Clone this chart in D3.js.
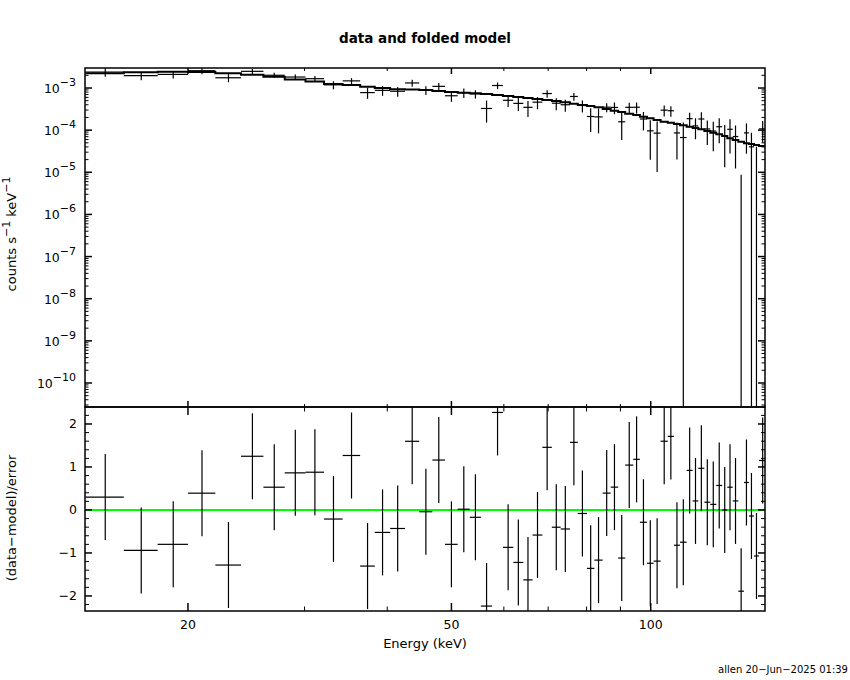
<!DOCTYPE html>
<html><head><meta charset="utf-8">
<script src="https://cdn.jsdelivr.net/npm/d3@7"></script>
<style>
body{margin:0;background:#fff}
text{font-family:"DejaVu Sans",sans-serif;fill:#000}
</style>
</head><body>
<svg id="c" width="850" height="680"></svg>
<script>
// ---- data ----
const edges = [14.0, 16.0, 18.0, 20.0, 22.0, 24.05, 26.0, 28.0, 30.1, 32.1, 34.25, 36.4, 38.3, 40.4, 42.55, 44.7, 46.8, 48.9, 51.1, 53.3, 55.4, 57.6, 59.8, 62.0, 64.2, 66.3, 68.6, 70.9, 73.1, 75.5, 77.6, 80.1, 82.2, 84.6, 87.0, 89.3, 91.5, 94.1, 96.3, 98.7, 101.0, 103.5, 106.1, 108.4, 110.7, 113.3, 115.7, 118.0, 120.5, 123.0, 125.6, 128.2, 130.5, 133.0, 135.6, 138.3, 140.7, 143.2, 145.7, 149.5];
const model = [2.233e-3, 2.358e-3, 2.436e-3, 2.397e-3, 2.233e-3, 2.068e-3, 1.854e-3, 1.591e-3, 1.426e-3, 1.244e-3, 1.178e-3, 1.074e-3, 1.000e-3, 9.315e-4, 9.213e-4, 8.965e-4, 8.488e-4, 8.037e-4, 7.735e-4, 7.526e-4, 7.204e-4, 6.821e-4, 6.458e-4, 6.114e-4, 5.789e-4, 5.483e-4, 5.190e-4, 4.914e-4, 4.576e-4, 4.240e-4, 3.950e-4, 3.740e-4, 3.483e-4, 3.174e-4, 2.892e-4, 2.695e-4, 2.455e-4, 2.287e-4, 2.084e-4, 1.910e-4, 1.740e-4, 1.586e-4, 1.502e-4, 1.398e-4, 1.303e-4, 1.207e-4, 1.124e-4, 1.047e-4, 9.541e-5, 8.694e-5, 7.965e-5, 7.261e-5, 6.405e-5, 5.834e-5, 5.316e-5, 4.871e-5, 4.688e-5, 4.439e-5, 4.203e-5];
const rate = [2.400e-3, 1.961e-3, 2.105e-3, 2.574e-3, 1.750e-3, 2.489e-3, 2.007e-3, 1.824e-3, 1.664e-3, 1.190e-3, 1.477e-3, 7.79e-4, 8.81e-4, 8.38e-4, 1.319e-3, 8.88e-4, 1.095e-3, 6.55e-4, 7.77e-4, 7.25e-4, 3.27e-4, 1.147e-3, 5.11e-4, 4.32e-4, 3.48e-4, 4.62e-4, 7.39e-4, 4.36e-4, 4.01e-4, 6.30e-4, 3.85e-4, 2.11e-4, 2.06e-4, 3.51e-4, 3.46e-4, 1.58e-4, 3.48e-4, 3.50e-4, 1.84e-4, 9.63e-5, 8.50e-5, 2.98e-4, 2.89e-4, 8.59e-5, 6.68e-5, 1.873e-4, 1.261e-4, 1.839e-4, 1.066e-4, 9.52e-5, 1.205e-4, 7.26e-5, 1.048e-4, 7.06e-5, -4.13e-5, 8.61e-5, 4.03e-5, -1.74e-5, 1.073e-4];
const rateErr = [5.58e-4, 4.22e-4, 4.14e-4, 4.53e-4, 3.77e-4, 3.37e-4, 2.89e-4, 2.70e-4, 2.71e-4, 2.56e-4, 2.36e-4, 2.26e-4, 2.28e-4, 2.17e-4, 2.49e-4, 2.07e-4, 2.12e-4, 1.86e-4, 1.95e-4, 1.62e-4, 1.76e-4, 2.05e-4, 1.55e-4, 1.47e-4, 1.42e-4, 1.48e-4, 1.51e-4, 1.38e-4, 1.28e-4, 1.31e-4, 1.22e-4, 1.20e-4, 1.22e-4, 8.57e-5, 1.07e-4, 9.97e-5, 9.82e-5, 1.03e-4, 8.54e-5, 7.64e-5, 7.48e-5, 8.72e-5, 8.11e-5, 6.57e-5, 8.47e-5, 7.24e-5, 6.52e-5, 8.17e-5, 6.20e-5, 6.35e-5, 7.17e-5, 5.95e-5, 7.69e-5, 5.83e-5, 5.00e-5, 5.85e-5, 4.69e-5, 5.77e-5, 5.67e-5];

const xMajorTicks = [20, 50, 100];
const xMajorLabels = ["20", "50", "100"];
const xMinorTicks = [30, 40, 60, 70, 80, 90];
const yDecades = [-10, -9, -8, -7, -6, -5, -4, -3];
const resMajorTicks = [-2, -1, 0, 1, 2];
const resMajorLabels = ["\u22122", "\u22121", "0", "1", "2"];

const titleText = "data and folded model";
const xTitle = "Energy (keV)";
const resTitle = "(data\u2212model)/error";
const footer = "allen 20\u2212Jun\u22122025 01:39";

// ---- layout ----
const L = 85, R = 765, T1 = 68, B1 = 407, T2 = 407, B2 = 611;
const svg = d3.select("#c");
svg.append("rect").attr("width", 850).attr("height", 680).attr("fill", "#fff");

const x = d3.scaleLog().domain([13.98, 148.8]).range([L, R]);
const yTop = d3.scaleLog().domain([Math.pow(10, -10.57), Math.pow(10, -2.525)]).range([B1, T1]);
const yRes = d3.scaleLinear().domain([-2.35, 2.395]).range([B2, T2]);

const bins = model.map((m, i) => {
  const lo = edges[i], hi = edges[i + 1];
  return {lo, hi, mid: (lo + hi) / 2, m, d: rate[i], e: rateErr[i], r: (rate[i] - m) / rateErr[i]};
});

const defs = svg.append("defs");
defs.append("clipPath").attr("id", "cp1").append("rect").attr("x", L).attr("y", T1).attr("width", R - L).attr("height", B1 - T1);
defs.append("clipPath").attr("id", "cp2").append("rect").attr("x", L).attr("y", T2).attr("width", R - L).attr("height", B2 - T2);

// ---- top panel ----
const g1 = svg.append("g").attr("clip-path", "url(#cp1)");
const pts = [];
bins.forEach(b => { pts.push([b.lo, b.m]); pts.push([b.hi, b.m]); });
g1.append("path").attr("d", d3.line().x(p => x(p[0])).y(p => yTop(p[1]))(pts))
  .attr("fill", "none").attr("stroke", "#000").attr("stroke-width", 2);

bins.forEach(b => {
  const hi = b.d + b.e, lo = b.d - b.e;
  if (hi > 0) {
    const y2 = yTop(hi);
    const y1 = lo > 0 ? yTop(lo) : B1 + 2;
    g1.append("line").attr("x1", x(b.mid)).attr("x2", x(b.mid)).attr("y1", y1).attr("y2", y2)
      .attr("stroke", "#000").attr("stroke-width", 1.2);
  }
  if (b.d > 0) {
    g1.append("line").attr("x1", x(b.lo)).attr("x2", x(b.hi)).attr("y1", yTop(b.d)).attr("y2", yTop(b.d))
      .attr("stroke", "#000").attr("stroke-width", 1.2);
  }
});

// ---- bottom panel ----
const g2 = svg.append("g").attr("clip-path", "url(#cp2)");
g2.append("line").attr("x1", L).attr("x2", R).attr("y1", yRes(0)).attr("y2", yRes(0))
  .attr("stroke", "#00ff00").attr("stroke-width", 2);
bins.forEach(b => {
  g2.append("line").attr("x1", x(b.mid)).attr("x2", x(b.mid)).attr("y1", yRes(b.r - 1)).attr("y2", yRes(b.r + 1))
    .attr("stroke", "#000").attr("stroke-width", 1.2);
  g2.append("line").attr("x1", x(b.lo)).attr("x2", x(b.hi)).attr("y1", yRes(b.r)).attr("y2", yRes(b.r))
    .attr("stroke", "#000").attr("stroke-width", 1.2);
});

// ---- frames & ticks ----
const axg = svg.append("g").attr("stroke", "#000").attr("fill", "none");
function tick(x1, y1, x2, y2, w) {
  axg.append("line").attr("x1", x1).attr("y1", y1).attr("x2", x2).attr("y2", y2).attr("stroke-width", w || 1);
}
// x ticks
function xTicks(top, bot, maj, min) {
  xMajorTicks.forEach(v => { const px = x(v); tick(px, top, px, top + maj, 1.5); tick(px, bot, px, bot - maj, 1.5); });
  xMinorTicks.forEach(v => { const px = x(v); tick(px, top, px, top + min); tick(px, bot, px, bot - min); });
}
xTicks(T1, B1, 6, 3);
xTicks(T2, B2, 8, 4.5);
// top y ticks (log)
yDecades.forEach(k => {
  const py = yTop(Math.pow(10, k));
  tick(L, py, L + 7, py, 1.5); tick(R, py, R - 7, py, 1.5);
});
const [dmin, dmax] = yTop.domain();
for (let k = -11; k <= -3; k++) {
  for (let j = 2; j <= 9; j++) {
    const v = j * Math.pow(10, k);
    if (v < dmin || v > dmax) continue;
    const py = yTop(v);
    tick(L, py, L + 3.5, py); tick(R, py, R - 3.5, py);
  }
}
// residual y ticks
resMajorTicks.forEach(v => { const py = yRes(v); tick(L, py, L + 7, py, 1.5); tick(R, py, R - 7, py, 1.5); });
for (let v = -2.2; v <= 2.3; v += 0.2) {
  const vv = Math.round(v * 10) / 10;
  if (Math.abs(vv - Math.round(vv)) < 1e-6) continue;
  const py = yRes(vv);
  tick(L, py, L + 4, py); tick(R, py, R - 4, py);
}
axg.append("rect").attr("x", L).attr("y", T1).attr("width", R - L).attr("height", B1 - T1).attr("stroke-width", 1.5);
axg.append("rect").attr("x", L).attr("y", T2).attr("width", R - L).attr("height", B2 - T2).attr("stroke-width", 1.5);

// ---- labels ----
const fs = 12.5;
yDecades.forEach(k => {
  const py = yTop(Math.pow(10, k));
  const t = svg.append("text").attr("x", 76).attr("y", py + 5).attr("text-anchor", "end").attr("font-size", fs);
  t.append("tspan").text("10");
  t.append("tspan").attr("dy", -7).attr("font-size", 11).text("\u2212" + (-k));
});
resMajorTicks.forEach((v, i) => {
  svg.append("text").attr("x", 77).attr("y", yRes(v) + 4.5).attr("text-anchor", "end")
    .attr("font-size", fs).text(resMajorLabels[i]);
});
xMajorTicks.forEach((v, i) => {
  svg.append("text").attr("x", x(v)).attr("y", 629).attr("text-anchor", "middle")
    .attr("font-size", fs).text(xMajorLabels[i]);
});
svg.append("text").attr("x", 425).attr("y", 648).attr("text-anchor", "middle").attr("font-size", 13).text(xTitle);
svg.append("text").attr("x", 425).attr("y", 43).attr("text-anchor", "middle").attr("font-size", 13.5)
  .attr("font-weight", "bold").attr("font-family", "Liberation Serif, serif").text(titleText);

const yt = svg.append("text").attr("transform", "translate(16,234) rotate(-90)").attr("text-anchor", "middle").attr("font-size", 13);
yt.append("tspan").text("counts s");
yt.append("tspan").attr("dy", -6).attr("font-size", 11).text("\u22121");
yt.append("tspan").attr("dy", 6).text(" keV");
yt.append("tspan").attr("dy", -6).attr("font-size", 11).text("\u22121");

svg.append("text").attr("transform", "translate(16,518) rotate(-90)").attr("text-anchor", "middle")
  .attr("font-size", 13).text(resTitle);
svg.append("text").attr("x", 848).attr("y", 673).attr("text-anchor", "end").attr("font-size", 10).text(footer);
</script>
</body></html>
